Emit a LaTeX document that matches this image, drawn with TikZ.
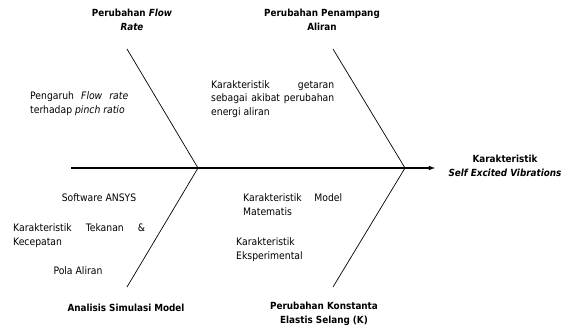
\documentclass[tikz,border=0pt]{standalone}
\usepackage{fontspec}
\setmainfont{DejaVu Sans Condensed}
\usepackage{tikz}
\usetikzlibrary{arrows}
\usetikzlibrary{positioning}

\begin{document}
\begin{tikzpicture}
[
	x = 1pt, y = -1pt,
	txt/.style	= {inner sep = 0cm, font = \fontsize{10.3}{13.8}\selectfont},
	para/.style	= {txt, anchor = west, align = justify},
	cause/.style	= {txt, align = center, font = \fontsize{9.8}{13.8}\selectfont\bfseries},
	spine/.style	= {-latex, line width = 1.1pt},
	bone/.style	= {line width = 0.7pt},
]
	\useasboundingbox (0,0) rectangle (569,331);

	% spine and bones
	\coordinate (tail) at (71,168);
	\coordinate (tip) at (435,168);
	\coordinate (j1) at (198,168);
	\coordinate (j2) at (405,168);
	\coordinate (b1) at (127,49);
	\coordinate (b2) at (333,49);
	\coordinate (b3) at (127,287);
	\coordinate (b4) at (333,287);

	\node (head) [cause] at (505,166) {Karakteristik\\\textit{Self Excited Vibrations}};
	%
	\node (flow) [cause] at (132,20) {Perubahan \textit{Flow}\\\textit{Rate}};
	\node (penampang) [cause] at (322,20) {Perubahan Penampang\\Aliran};
	\node (simulasi) [cause] at (126,308) {Analisis Simulasi Model};
	\node (konstanta) [cause] at (324,314) {Perubahan Konstanta\\Elastis Selang (K)};

	\node (pengaruh) [para, text width = 98pt] at (30,104) {Pengaruh \textit{Flow rate}\linebreak terhadap \textit{pinch ratio}};
	\node (getaran) [para, text width = 123pt] at (211,99) {Karakteristik getaran\linebreak sebagai akibat perubahan\linebreak energi aliran};
	%
	\node (ansys) [txt] at (99,198) {Software ANSYS};
	\node (tekanan) [para, text width = 132pt] at (13,236) {Karakteristik Tekanan \&\linebreak Kecepatan};
	\node (pola) [txt] at (78,271) {Pola Aliran};
	%
	\node (model) [para, text width = 99pt] at (243,205) {Karakteristik Model\linebreak Matematis};
	\node (eksperimen) [txt, anchor = west, align = left] at (236,250) {Karakteristik\\Eksperimental};

	\draw [spine] (tail) -- (tip);
	\draw [bone] (b1) -- (j1) -- (b3);
	\draw [bone] (b2) -- (j2) -- (b4);

\end{tikzpicture}
\end{document}
